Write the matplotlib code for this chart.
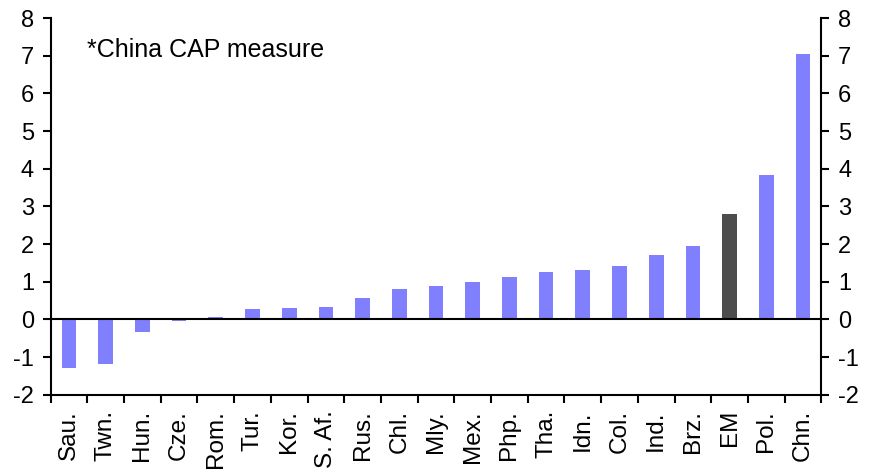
import matplotlib
matplotlib.use("Agg")
import matplotlib.pyplot as plt
import numpy as np

plt.rcParams["font.family"] = ["Liberation Sans", "DejaVu Sans"]
plt.rcParams["axes.unicode_minus"] = False

countries = ["Sau.", "Twn.", "Hun.", "Cze.", "Rom.", "Tur.", "Kor.", "S. Af.",
             "Rus.", "Chl.", "Mly.", "Mex.", "Php.", "Tha.", "Idn.", "Col.",
             "Ind.", "Brz.", "EM", "Pol.", "Chn."]
values = [-1.30, -1.17, -0.32, -0.05, 0.07, 0.29, 0.31, 0.34, 0.58, 0.82,
          0.90, 1.00, 1.14, 1.25, 1.30, 1.43, 1.70, 1.94, 2.79, 3.83, 7.05]
highlight = "EM"

fig = plt.figure(figsize=(8.72, 4.74), dpi=100)
ax = fig.add_axes([0.058, 0.167, 0.884, 0.795])

x = np.arange(len(countries))
colors = ["#4d4d4d" if c == highlight else "#8080ff" for c in countries]
ax.bar(x, values, width=0.4, color=colors, zorder=2)
ax.axhline(0, color="black", lw=1.5, zorder=3)

ax.set_xlim(-0.5, len(countries) - 0.5)
ax.set_ylim(-2, 8)
ax.set_yticks(range(-2, 9))

# ticks sit between categories, labels at the centres
ax.set_xticks(np.arange(-0.5, len(countries)), minor=False)
ax.set_xticklabels([])
ax.set_xticks(x, minor=True)
ax.set_xticklabels(countries, minor=True, rotation=90, fontsize=17.5)
ax.tick_params(axis="x", which="major", direction="out", length=6, width=1.5)
ax.tick_params(axis="x", which="minor", length=0, pad=11)
ax.tick_params(axis="y", direction="out", length=6, width=1.5, labelsize=17,
               pad=6, left=True, right=True, labelleft=True, labelright=True)

ax.spines["top"].set_visible(False)
for s in ["left", "right", "bottom"]:
    ax.spines[s].set_linewidth(1.5)

ax.text(0.047, 0.915, "*China CAP measure", transform=ax.transAxes,
        fontsize=18, va="center", ha="left")

fig.savefig("out.png", dpi=100)
